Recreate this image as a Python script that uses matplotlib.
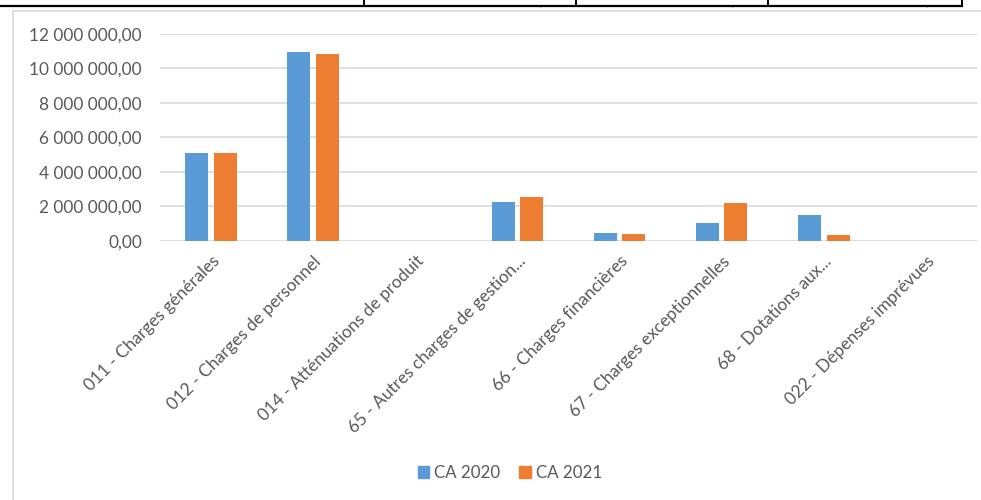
import matplotlib
matplotlib.use("Agg")
import matplotlib.pyplot as plt
from matplotlib.lines import Line2D
from matplotlib.patches import Patch
from matplotlib.ticker import FuncFormatter
import numpy as np

categories = [
    "011 - Charges générales",
    "012 - Charges de personnel",
    "014 - Atténuations de produit",
    "65 - Autres charges de gestion...",
    "66 - Charges financières",
    "67 - Charges exceptionnelles",
    "68 - Dotations aux...",
    "022 - Dépenses imprévues",
]
ca_2020 = [5070000, 10950000, 0, 2230000, 460000, 1010000, 1510000, 0]
ca_2021 = [5070000, 10840000, 0, 2540000, 390000, 2170000, 330000, 0]
series_names = ["CA 2020", "CA 2021"]
colors = ["#5B9BD5", "#ED7D31"]

plt.rcParams['font.family'] = ['Lato', 'DejaVu Sans']

W, H = 981, 500
fig = plt.figure(figsize=(W / 100, H / 100), dpi=100)

# page decorations: cropped table above, chart frame
fig.add_artist(Line2D([0, 962 / W], [1 - 5.5 / H, 1 - 5.5 / H], color="black", lw=1.6))
for xv in [364, 576, 768, 962]:
    fig.add_artist(Line2D([xv / W, xv / W], [1, 1 - 6 / H], color="black", lw=1.4))
for xv in [540, 732, 927]:
    fig.text(xv / W, 1 - 0.5 / H, ",", fontsize=5, color="black", ha="center", va="top")
fig.add_artist(Line2D([12.5 / W, 1], [1 - 11 / H, 1 - 11 / H], color="#d9d9d9", lw=1.2))
fig.add_artist(Line2D([12.5 / W, 12.5 / W], [0, 1 - 11 / H], color="#d9d9d9", lw=1.2))

left, right = 160 / W, 977 / W
bottom, top = 1 - 240.7 / H, 1 - 34 / H
ax = fig.add_axes([left, bottom, right - left, top - bottom])

x = np.arange(len(categories))
bw = 0.225
off = 0.14
ax.bar(x - off, ca_2020, bw, color=colors[0], zorder=3)
ax.bar(x + off, ca_2021, bw, color=colors[1], zorder=3)

ax.set_xlim(-0.5, len(categories) - 0.5)
ax.set_ylim(0, 12000000)
ax.set_yticks(np.arange(0, 12000001, 2000000))
ax.yaxis.set_major_formatter(FuncFormatter(lambda v, p: f"{v:,.2f}".replace(",", " ").replace(".", ",")))
ax.grid(axis="y", color="#d9d9d9", lw=1.2, zorder=0)
ax.set_axisbelow(True)
for s in ax.spines.values():
    s.set_visible(False)
ax.tick_params(axis="y", length=0, pad=13, labelsize=12.4, labelcolor="#595959")
ax.tick_params(axis="x", length=0, pad=9, labelsize=12.4, labelcolor="#595959")
ax.set_xticks(x)
ax.set_xticklabels(categories, rotation=45, ha="right", rotation_mode="anchor")

handles = [Patch(color=c) for c in colors]
fig.legend(handles, series_names, loc="center", bbox_to_anchor=(510 / W, 1 - 473 / H),
           ncol=2, frameon=False, fontsize=12.2, labelcolor="#595959",
           handlelength=0.7, handleheight=0.7, handletextpad=0.3, columnspacing=1.1)

fig.savefig("out.png", dpi=100, facecolor="white")
